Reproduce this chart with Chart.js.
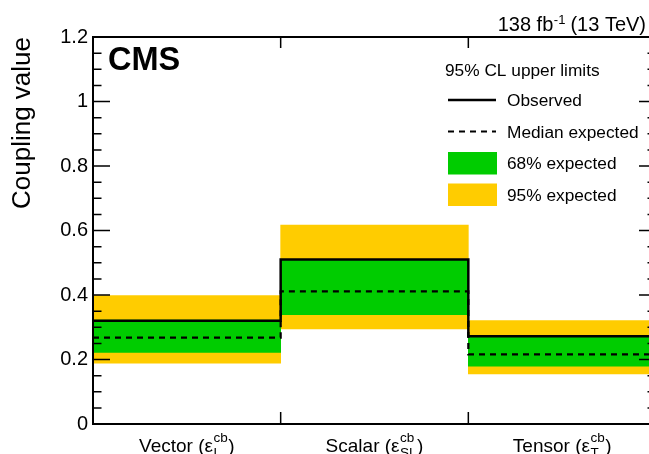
<!DOCTYPE html>
<html>
<head>
<meta charset="utf-8">
<script src="https://cdn.jsdelivr.net/npm/chart.js@4/dist/chart.umd.min.js"></script>
<style>
  html, body { margin: 0; padding: 0; background: #fff; }
  #wrap { width: 649px; height: 454px; overflow: hidden; }
</style>
</head>
<body>
<div id="wrap"><canvas id="limits" width="662" height="454"></canvas></div>
<script>
// 95% CL upper limits on the b->c coupling, per coupling type

const categories = ['Vector', 'Scalar', 'Tensor'];
const couplingSubscripts = ['L', 'SL', 'T'];

const observed = [0.320, 0.510, 0.272];
const medianExpected = [0.268, 0.411, 0.216];
const lo68 = [0.222, 0.339, 0.179];
const hi68 = [0.322, 0.510, 0.270];
const lo95 = [0.189, 0.295, 0.155];
const hi95 = [0.398, 0.617, 0.321];

const yMin = 0;
const yMax = 1.2;
const yStep = 0.2;
const yMinorStep = 0.05;

const FONT = "'Liberation Sans', Arial, Helvetica, sans-serif";
const GREEN = '#00cc00';
const YELLOW = '#ffcc00';

Chart.defaults.font.family = FONT;
Chart.defaults.color = '#000';

// histogram-style steps: one point per bin edge, last value repeated at the end
function stepPoints(vals) {
    const pts = vals.map((v, i) => ({ x: i, y: v }));
    pts.push({ x: vals.length, y: vals[vals.length - 1] });
    return pts;
}

function bandBars(lo, hi) {
    return lo.map((v, i) => ({ x: i + 0.5, y: [v, hi[i]] }));
}

const framePlugin = {
    id: 'frame',
    afterDraw(chart) {
        const { ctx, chartArea: a, scales: { x, y } } = chart;
        ctx.save();

        // frame
        ctx.strokeStyle = '#000';
        ctx.lineWidth = 2;
        ctx.strokeRect(a.left, a.top, a.right - a.left, a.bottom - a.top);

        // inward y ticks, major + minor, on both sides
        ctx.lineWidth = 1.5;
        const nMinor = Math.round((yMax - yMin) / yMinorStep);
        const perMajor = Math.round(yStep / yMinorStep);
        for (let i = 0; i <= nMinor; i++) {
            const py = y.getPixelForValue(yMin + i * yMinorStep);
            const len = i % perMajor === 0 ? 17 : 8.5;
            ctx.beginPath();
            ctx.moveTo(a.left, py); ctx.lineTo(a.left + len, py);
            ctx.moveTo(a.right, py); ctx.lineTo(a.right - len, py);
            ctx.stroke();
        }

        // x ticks at bin edges
        for (let i = 1; i < categories.length; i++) {
            const px = x.getPixelForValue(i);
            ctx.beginPath();
            ctx.moveTo(px, a.bottom); ctx.lineTo(px, a.bottom - 12);
            ctx.moveTo(px, a.top); ctx.lineTo(px, a.top + 11);
            ctx.stroke();
        }

        // x labels with super/subscripts
        ctx.fillStyle = '#000';
        ctx.textBaseline = 'alphabetic';
        ctx.textAlign = 'left';
        categories.forEach((cat, i) => {
            const cx = x.getPixelForValue(i + 0.5);
            const main = cat + ' (\u03b5';
            ctx.font = `19px ${FONT}`;
            const w1 = ctx.measureText(main).width;
            const w2 = ctx.measureText(')').width;
            ctx.font = `13.5px ${FONT}`;
            const ws = Math.max(ctx.measureText('cb').width, ctx.measureText(couplingSubscripts[i]).width);
            const start = cx - (w1 + ws + 1 + w2) / 2;
            ctx.font = `19px ${FONT}`;
            ctx.fillText(main, start, 451.5);
            ctx.fillText(')', start + w1 + ws + 1, 451.5);
            ctx.font = `13.5px ${FONT}`;
            ctx.fillText('cb', start + w1 + 0.5, 442);
            ctx.fillText(couplingSubscripts[i], start + w1 + 0.5, 457);
        });

        // CMS label
        ctx.font = `bold 32.5px ${FONT}`;
        ctx.fillText('CMS', 108, 70);

        // lumi label, right aligned
        ctx.font = `20px ${FONT}`;
        const p1 = '138 fb', p3 = ' (13 TeV)';
        const w1 = ctx.measureText(p1).width, w3 = ctx.measureText(p3).width;
        ctx.font = `13px ${FONT}`;
        const w2 = ctx.measureText('-1').width;
        const lx = 646 - (w1 + w2 + w3);
        ctx.font = `20px ${FONT}`;
        ctx.fillText(p1, lx, 31);
        ctx.font = `13px ${FONT}`;
        ctx.fillText('-1', lx + w1 + 0.5, 23.5);
        ctx.font = `20px ${FONT}`;
        ctx.fillText(p3, lx + w1 + w2, 31);

        // legend
        ctx.font = `17.3px ${FONT}`;
        ctx.fillText('95% CL upper limits', 445, 76);
        const order = ['Observed', 'Median expected', '68% expected', '95% expected'];
        order.forEach((label, k) => {
            const ds = chart.data.datasets.find(d => d.label === label);
            const cy = 100 + k * 31.5;
            if (ds.type === 'line') {
                ctx.strokeStyle = ds.borderColor;
                ctx.lineWidth = ds.borderWidth;
                ctx.setLineDash(ds.borderDash || []);
                ctx.beginPath();
                ctx.moveTo(448, cy); ctx.lineTo(496, cy);
                ctx.stroke();
                ctx.setLineDash([]);
            } else {
                ctx.fillStyle = ds.backgroundColor;
                ctx.fillRect(448, cy - 11, 49, 22.5);
            }
            ctx.fillStyle = '#000';
            ctx.fillText(label, 507, cy + 6);
        });

        ctx.restore();
    }
};

new Chart(document.getElementById('limits'), {
    type: 'bar',
    data: {
        datasets: [
            {
                type: 'line', label: 'Observed', data: stepPoints(observed),
                stepped: 'before', borderColor: '#000', borderWidth: 2.5,
                pointRadius: 0, fill: false, order: 1
            },
            {
                type: 'line', label: 'Median expected', data: stepPoints(medianExpected),
                stepped: 'before', borderColor: '#000', borderWidth: 2.2, borderDash: [6, 5],
                pointRadius: 0, fill: false, order: 2
            },
            {
                type: 'bar', label: '68% expected', data: bandBars(lo68, hi68),
                backgroundColor: GREEN, borderWidth: 0, grouped: false,
                barPercentage: 1, categoryPercentage: 1, order: 3
            },
            {
                type: 'bar', label: '95% expected', data: bandBars(lo95, hi95),
                backgroundColor: YELLOW, borderWidth: 0, grouped: false,
                barPercentage: 1, categoryPercentage: 1, order: 4
            }
        ]
    },
    options: {
        responsive: false,
        animation: false,
        devicePixelRatio: 1,
        layout: { padding: { top: 37, right: 6, left: 0, bottom: 0 } },
        plugins: {
            legend: { display: false },
            tooltip: { enabled: false }
        },
        scales: {
            x: {
                type: 'linear',
                min: 0,
                max: categories.length,
                offset: false,
                ticks: { stepSize: 1, display: false },
                grid: { display: false, drawTicks: false, offset: false },
                border: { display: false },
                afterFit(scale) { scale.height = 30; }
            },
            y: {
                min: yMin,
                max: yMax,
                ticks: {
                    stepSize: yStep,
                    padding: 5,
                    color: '#000',
                    font: { size: 20 },
                    callback: v => String(Number(v.toFixed(2)))
                },
                grid: { display: false, drawTicks: false },
                border: { display: false },
                title: {
                    display: true,
                    text: 'Coupling value',
                    align: 'end',
                    color: '#000',
                    font: { size: 26 },
                    padding: { top: 7, bottom: 0 }
                },
                afterFit(scale) { scale.width = 93; }
            }
        }
    },
    plugins: [framePlugin]
});
</script>
</body>
</html>
